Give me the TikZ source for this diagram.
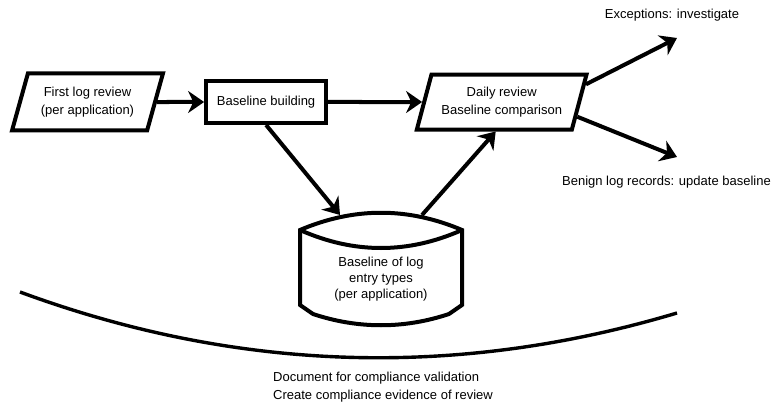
\documentclass[tikz,border=0pt]{standalone}
\usepackage{fontspec}
\setmainfont{Liberation Sans}
\usetikzlibrary{shapes.geometric, arrows.meta, positioning, calc}
\tikzstyle{block} = [rectangle, draw, line width=4pt, text centered, minimum height=42pt, minimum width=120pt]
\tikzstyle{io} = [trapezium, trapezium left angle=70, trapezium right angle=110, trapezium stretches=true, draw, line width=4pt, align=center]
\tikzstyle{arrow} = [line width=4pt, -{Stealth[length=16pt, width=22pt]}]

\begin{document}
\begin{tikzpicture}[x=1pt, y=-1pt, font=\fontsize{13}{17.7}\selectfont]
        \useasboundingbox (0,0) rectangle (772,404);

        % Input, building and daily review
        \node (first) [io, minimum width=151pt, minimum height=57pt] at (87.5,102) {First log review\\(per application)};
        \node (build) [block, right=47pt of first] {Baseline building};
        \node (daily) [io, minimum width=170pt, minimum height=55pt, right=94pt of build] {Daily review\\Baseline comparison};

        % Baseline store (outline drawn by hand round the text)
        \node (store) [align=center, font=\fontsize{13}{16}\selectfont] at (381,279) {Baseline of log\\entry types\\(per application)};
        \begin{scope}[shift={(store.center)}, line width=4pt]
            \draw (-81,-49) .. controls (-27,-72) and (27,-72) .. (81,-49) -- (81,26) -- (68,35)
                .. controls (23,50) and (-23,50) .. (-68,35) -- (-81,26) -- cycle;
            \draw (-81,-49) .. controls (-27,-25) and (27,-25) .. (81,-49);
            \coordinate (storein) at (-41,-64);
            \coordinate (storeout) at (41,-64);
        \end{scope}

        % Outcome labels
        \node (exctext) at (672,15) {Exceptions: investigate};
        \node (benigntext) [anchor=east, inner xsep=0pt] at (771,182) {Benign log records: update baseline};
        \coordinate (exc) at (677,38);
        \coordinate (benign) at (677,157);

        % Arrows for the main flow
        \draw [arrow] (first) -- (build);
        \draw [arrow] (build) -- (daily);
        \draw [arrow] (build.south) -- (storein);
        \draw [arrow] (storeout) -- ($(daily.south)+(-6,0)$);
        \draw [arrow] ($(daily.top right corner)!0.2!(daily.bottom right corner)$) -- (exc);
        \draw [arrow] ($(daily.top right corner)!0.75!(daily.bottom right corner)$) -- (benign);

        % Compliance arc and its note
        \draw [line width=3.4pt] (20,292) .. controls (237,372) and (456,379) .. (677,313);
        \node (doc) [align=left] at (383,387) {Document for compliance validation\\Create compliance evidence of review};

    \end{tikzpicture}
\end{document}
